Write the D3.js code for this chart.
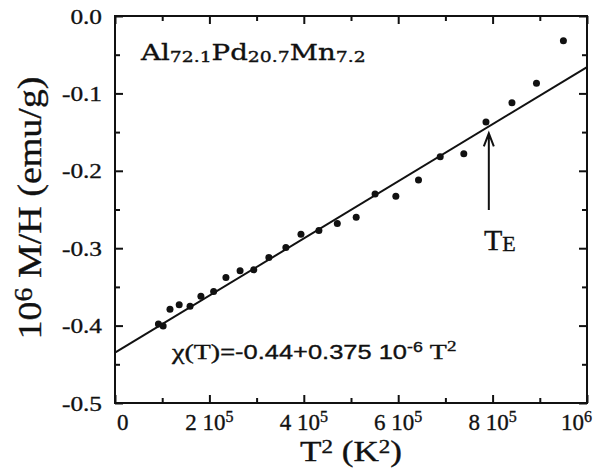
<!DOCTYPE html>
<html>
<head>
<meta charset="utf-8">
<script src="https://cdn.jsdelivr.net/npm/d3@7"></script>
<style>
  body { margin: 0; background: #fff; }
  text { fill: #111; stroke: #111; stroke-width: 0.35px; }
</style>
</head>
<body>
<script>
// T^2 (K^2) and 10^6 M/H (emu/g)
var t2 = [92000, 102000, 116500, 136000, 159000, 182000, 209000, 235000, 265000, 294000,
  326000, 362000, 394000, 432000, 471000, 511000, 551000, 595000, 643000, 689000,
  739000, 786000, 841000, 893000, 950000];
var mh = [-0.398, -0.4005, -0.379, -0.373, -0.375, -0.362, -0.356, -0.338, -0.329, -0.328,
  -0.312, -0.299, -0.282, -0.277, -0.268, -0.260, -0.230, -0.233, -0.212, -0.182,
  -0.178, -0.137, -0.112, -0.087, -0.032];

// fitted line as drawn (end points)
var fitX = [0, 1000000];
var fitY = [-0.435, -0.066];

// arrow marking T_E
var arrowX = 792000;
var arrowY = [-0.2506, -0.1516];

var xMajor = [0, 200000, 400000, 600000, 800000, 1000000];
var xMinor = [100000, 300000, 500000, 700000, 900000];
var xLabels = [["0", ""], ["2 10", "5"], ["4 10", "5"], ["6 10", "5"], ["8 10", "5"], ["10", "6"]];
var yMajor = [0, -0.1, -0.2, -0.3, -0.4, -0.5];
var yMinor = [-0.05, -0.15, -0.25, -0.35, -0.45];
var yLabels = ["0.0", "-0.1", "-0.2", "-0.3", "-0.4", "-0.5"];

var serif = "'Liberation Serif', 'Times New Roman', serif";
var sans = "'Liberation Sans', Arial, sans-serif";

var svg = d3.select('body').append('svg')
  .attr('width', 600)
  .attr('height', 468);

var margin = { top: 16, right: 13, bottom: 65, left: 115 },
  width = +svg.attr("width") - margin.left - margin.right,
  height = +svg.attr("height") - margin.top - margin.bottom,
  g = svg.append("g").attr("transform", "translate(" + margin.left + "," + margin.top + ")");

var x = d3.scaleLinear().domain([0, 1000000]).range([0, width]);
var y = d3.scaleLinear().domain([-0.5, 0]).range([height, 0]);

// squeeze/stretch a text horizontally to a measured width
function fit(t, tx, ty, w, rot) {
  var b = t.node().getBBox();
  var k = w / b.width;
  t.attr("transform", "translate(" + tx + "," + ty + ")" + (rot ? " rotate(-90)" : "") + " scale(" + k + ",1)");
}

// ticks on all four sides, pointing in
function ticks(axis, vals, size, tr) {
  var a = g.append("g").attr("transform", tr || null)
    .call(axis.tickValues(vals).tickSize(-size).tickSizeOuter(0).tickFormat(""));
  a.select(".domain").remove();
  a.selectAll("line").attr("stroke", "#111").attr("stroke-width", 2);
}
ticks(d3.axisBottom(x), xMajor, 8, "translate(0," + height + ")");
ticks(d3.axisBottom(x), xMinor, 5, "translate(0," + height + ")");
ticks(d3.axisTop(x), xMajor, 8);
ticks(d3.axisTop(x), xMinor, 5);
ticks(d3.axisLeft(y), yMajor, 8);
ticks(d3.axisLeft(y), yMinor, 5);
ticks(d3.axisRight(y), yMajor, 8, "translate(" + width + ",0)");
ticks(d3.axisRight(y), yMinor, 5, "translate(" + width + ",0)");

g.append("rect")
  .attr("width", width).attr("height", height)
  .attr("fill", "none").attr("stroke", "#111").attr("stroke-width", 2);

// y tick labels
yMajor.forEach(function (v, i) {
  g.append("text")
    .attr("transform", "translate(-13," + (y(v) + 7.5) + ") scale(1.15,1)")
    .attr("text-anchor", "end")
    .style("font-family", serif).style("font-size", "22px")
    .text(yLabels[i]);
});

// x tick labels
xMajor.forEach(function (v, i) {
  var t = g.append("text")
    .attr("x", x(v) + (i == 0 ? 2 : i == xMajor.length - 1 ? 5 : 0))
    .attr("y", height + 27)
    .attr("text-anchor", i == 0 ? "start" : i == xMajor.length - 1 ? "end" : "middle")
    .style("font-family", serif).style("font-size", "23px");
  t.append("tspan").text(xLabels[i][0]);
  if (xLabels[i][1]) t.append("tspan").attr("dy", -8).style("font-size", "16px").text(xLabels[i][1]);
});

// axis titles
var xt = svg.append("text").attr("text-anchor", "middle")
  .style("font-family", serif).style("font-size", "29px");
xt.append("tspan").text("T");
xt.append("tspan").attr("dy", -8).style("font-size", "19px").text("2");
xt.append("tspan").attr("dy", 8).text(" (K");
xt.append("tspan").attr("dy", -8).style("font-size", "19px").text("2");
xt.append("tspan").attr("dy", 8).text(")");
fit(xt, 351, 461, 102);

var yt = svg.append("text").attr("text-anchor", "middle")
  .style("font-family", serif).style("font-size", "34px");
yt.append("tspan").text("10");
yt.append("tspan").attr("dy", -9).style("font-size", "25px").text("6");
yt.append("tspan").attr("dy", 9).text(" M/H (emu/g)");
fit(yt, 40.5, 208, 263, true);

// fit line
g.append("path")
  .datum(d3.zip(fitX, fitY))
  .attr("d", d3.line().x(function (d) { return x(d[0]); }).y(function (d) { return y(d[1]); }))
  .attr("fill", "none").attr("stroke", "#111").attr("stroke-width", 2);

// data points
g.selectAll("circle")
  .data(d3.zip(t2, mh))
  .enter().append("circle")
  .attr("cx", function (d) { return x(d[0]); })
  .attr("cy", function (d) { return y(d[1]); })
  .attr("r", 3.5)
  .attr("fill", "#111");

// arrow
var ax = x(arrowX), ay0 = y(arrowY[0]), ay1 = y(arrowY[1]);
g.append("path")
  .attr("d", "M" + ax + "," + ay0 + "V" + ay1 + "M" + (ax - 5) + "," + (ay1 + 13) + "L" + ax + "," + ay1 + "L" + (ax + 5) + "," + (ay1 + 13))
  .attr("fill", "none").attr("stroke", "#111").attr("stroke-width", 2);

var te = svg.append("text").attr("x", 484).attr("y", 250)
  .style("font-family", serif).style("font-size", "30px");
te.append("tspan").text("T");
te.append("tspan").attr("dy", 1).style("font-size", "22px").text("E");

// sample label
var title = svg.append("text")
  .style("font-family", "'DejaVu Serif', serif").style("font-size", "22px");
[["Al", "72.1"], ["Pd", "20.7"], ["Mn", "7.2"]].forEach(function (p) {
  title.append("tspan").attr("dy", -2).text(p[0]);
  title.append("tspan").attr("dy", 2).style("font-size", "15px").text(p[1]);
});
fit(title, 141, 62, 226);

// fit equation
var eq = svg.append("text").style("font-size", "20px");
eq.append("tspan").style("font-family", serif).style("font-size", "22px").text("\u03c7(T)");
eq.append("tspan").style("font-family", sans).text("=-0.44+0.375 10");
eq.append("tspan").attr("dy", -7).style("font-family", sans).style("font-size", "14px").text("-6");
eq.append("tspan").attr("dy", 7).style("font-family", serif).style("font-size", "22px").text(" T");
eq.append("tspan").attr("dy", -8).style("font-family", serif).style("font-size", "15px").text("2");
fit(eq, 172, 359, 286);
</script>
</body>
</html>
